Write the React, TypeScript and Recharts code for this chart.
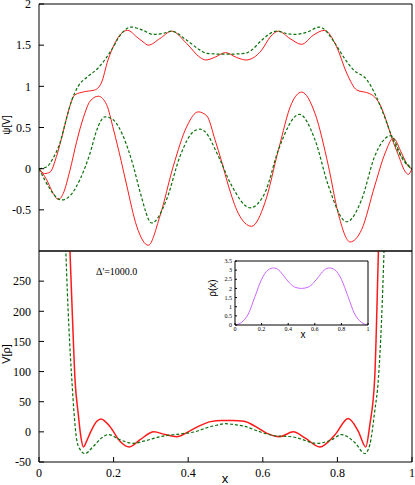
import React from 'react';
import { LineChart, Line, XAxis, YAxis } from 'recharts';

// ---------- ticks ----------
const X_TICKS = [0, 0.2, 0.4, 0.6, 0.8, 1];
const PSI_TICKS = [-0.5, 0, 0.5, 1, 1.5, 2];
const V_TICKS = [-50, 0, 50, 100, 150, 200, 250];
const V_RIGHT_TICKS = [0, 50, 100, 150, 200, 250];
const RHO_TICKS = [0, 0.5, 1, 1.5, 2, 2.5, 3, 3.5];

// ---------- top panel: psi[V] ----------
const PSI_UP_RED_X = [0, 0.015, 0.03, 0.047, 0.065, 0.08, 0.096, 0.122, 0.149, 0.167, 0.185, 0.203, 0.22, 0.238, 0.262, 0.279, 0.293, 0.324, 0.356, 0.396, 0.432, 0.447, 0.47, 0.5, 0.53, 0.555, 0.597, 0.62, 0.642, 0.673, 0.704, 0.735, 0.765, 0.798, 0.825, 0.852, 0.887, 0.9, 0.914, 0.932, 0.946, 0.963, 0.981, 0.99, 1];
const PSI_UP_RED_Y = [0, -0.06, -0.04, 0.15, 0.45, 0.72, 0.895, 0.935, 0.955, 1.04, 1.32, 1.52, 1.64, 1.68, 1.6, 1.54, 1.5, 1.58, 1.67, 1.52, 1.35, 1.32, 1.35, 1.41, 1.35, 1.32, 1.44, 1.6, 1.67, 1.58, 1.51, 1.62, 1.68, 1.48, 1.16, 0.955, 0.91, 0.87, 0.78, 0.57, 0.37, 0.17, -0.03, -0.07, 0];

const PSI_UP_GRN_X = [0, 0.02, 0.038, 0.056, 0.072, 0.087, 0.105, 0.131, 0.158, 0.176, 0.194, 0.221, 0.247, 0.279, 0.306, 0.33, 0.356, 0.396, 0.432, 0.45, 0.5, 0.552, 0.57, 0.597, 0.637, 0.665, 0.686, 0.72, 0.752, 0.794, 0.816, 0.843, 0.879, 0.9, 0.923, 0.946, 0.963, 0.986, 1];
const PSI_UP_GRN_Y = [0, 0.02, 0.13, 0.31, 0.58, 0.82, 1.0, 1.12, 1.22, 1.32, 1.44, 1.64, 1.72, 1.68, 1.63, 1.64, 1.67, 1.56, 1.44, 1.4, 1.39, 1.4, 1.44, 1.56, 1.67, 1.64, 1.63, 1.66, 1.72, 1.52, 1.36, 1.2, 1.08, 0.915, 0.67, 0.39, 0.21, 0.05, 0];

const PSI_LO_RED_X = [0, 0.02, 0.038, 0.052, 0.065, 0.083, 0.101, 0.119, 0.137, 0.159, 0.181, 0.2, 0.22, 0.235, 0.262, 0.293, 0.324, 0.36, 0.396, 0.427, 0.45, 0.472, 0.49, 0.508, 0.534, 0.57, 0.606, 0.642, 0.677, 0.704, 0.74, 0.776, 0.802, 0.834, 0.865, 0.9, 0.928, 0.95, 0.972, 0.99, 1];
const PSI_LO_RED_Y = [0, -0.13, -0.3, -0.375, -0.3, -0.02, 0.33, 0.62, 0.82, 0.88, 0.78, 0.47, 0.1, -0.2, -0.7, -0.93, -0.58, 0.03, 0.51, 0.69, 0.64, 0.35, 0.08, -0.21, -0.54, -0.7, -0.41, 0.23, 0.79, 0.93, 0.67, 0.03, -0.54, -0.89, -0.74, -0.21, 0.19, 0.37, 0.19, 0.03, 0];

const PSI_LO_GRN_X = [0, 0.03, 0.047, 0.061, 0.083, 0.11, 0.137, 0.155, 0.177, 0.2, 0.226, 0.253, 0.272, 0.302, 0.342, 0.378, 0.414, 0.432, 0.445, 0.481, 0.517, 0.566, 0.606, 0.642, 0.698, 0.74, 0.776, 0.825, 0.865, 0.9, 0.943, 0.972, 0.995, 1];
const PSI_LO_GRN_Y = [0, -0.25, -0.35, -0.38, -0.33, -0.13, 0.19, 0.47, 0.63, 0.59, 0.39, 0.03, -0.3, -0.66, -0.375, 0.15, 0.45, 0.48, 0.45, 0.15, -0.21, -0.475, -0.29, 0.23, 0.66, 0.35, -0.21, -0.645, -0.375, 0.15, 0.4, 0.15, 0.02, 0];

// ---------- bottom panel: V[rho] ----------
const V_RED_X = [0.07, 0.083, 0.09, 0.0965, 0.105, 0.112, 0.119, 0.128, 0.137, 0.155, 0.166, 0.19, 0.217, 0.242, 0.271, 0.308, 0.338, 0.369, 0.4, 0.43, 0.46, 0.49, 0.52, 0.55, 0.58, 0.61, 0.645, 0.682, 0.713, 0.753, 0.794, 0.829, 0.856, 0.876, 0.887, 0.9, 0.91, 0.92];
const V_RED_Y = [520, 300, 185, 87, 31, -7, -25, -15, -2, 17.5, 21.5, 9, -15.5, -25, -13, 0, -4.5, -8, 0, 10, 17, 19, 19, 17.5, 9, -2, -8, 0, -10, -25, -4.5, 22, 1, -25, 12, 89, 300, 520];

const V_GRN_X = [0.062, 0.072, 0.08, 0.088, 0.094, 0.101, 0.11, 0.123, 0.146, 0.168, 0.186, 0.217, 0.253, 0.28, 0.333, 0.378, 0.423, 0.445, 0.476, 0.5, 0.525, 0.552, 0.588, 0.624, 0.686, 0.745, 0.785, 0.811, 0.847, 0.874, 0.887, 0.9, 0.91, 0.918, 0.925, 0.935];
const V_GRN_Y = [520, 300, 175, 87, 31, -13, -29, -36, -24, -10, -4.5, -13, -19, -15.5, -7, -3.5, 1, 6, 11, 13.5, 12, 9, 1, -5.6, -9, -19, -13, -4.5, -18, -36, -21, 34, 89, 180, 300, 520];

// ---------- inset: rho(x) ----------
const RHO_X = [0, 0.05, 0.1, 0.15, 0.2, 0.25, 0.29, 0.33, 0.37, 0.41, 0.45, 0.5, 0.55, 0.59, 0.63, 0.67, 0.71, 0.75, 0.8, 0.85, 0.9, 0.95, 1];
const RHO_Y = [0, 0.15, 0.6, 1.55, 2.5, 3.02, 3.12, 3.0, 2.65, 2.3, 2.07, 2.0, 2.07, 2.3, 2.65, 3.0, 3.12, 3.02, 2.5, 1.55, 0.6, 0.15, 0];

const zip = (xs: number[], ys: number[]) => xs.map((x, i) => ({ x, y: ys[i] }));

const RED = '#ff1a1a';
const GREEN = '#0a700a';
const PURPLE = '#cc66ff';
const SERIF = "'Liberation Serif', 'Times New Roman', serif";
const SANS = "'Liberation Sans', Arial, sans-serif";
const TICK = { fontSize: 12, style: { fontFamily: SERIF }, fill: '#000' };
const TICK_SMALL = { fontSize: 6, style: { fontFamily: SERIF }, fill: '#000' };

function TopPanel() {
  return (
    <LineChart width={415} height={252} margin={{ top: 3, right: 2, bottom: 0, left: 0 }}>
      <XAxis xAxisId="b" dataKey="x" type="number" domain={[0, 1]} ticks={X_TICKS} allowDataOverflow orientation="bottom" height={1} tick={false} tickSize={-5} stroke="#000" interval={0} />
      <XAxis xAxisId="t" dataKey="x" type="number" domain={[0, 1]} ticks={X_TICKS} allowDataOverflow orientation="top" height={1} tick={false} tickSize={-5} stroke="#000" interval={0} />
      <YAxis yAxisId="l" type="number" domain={[-1, 2]} ticks={PSI_TICKS} allowDataOverflow width={39} tickSize={-5} tickMargin={13} stroke="#000" tick={TICK} interval={0} />
      <YAxis yAxisId="r" orientation="right" type="number" domain={[-1, 2]} ticks={PSI_TICKS} allowDataOverflow width={1} tickSize={-5} tick={false} stroke="#000" interval={0} />
      <Line xAxisId="b" yAxisId="l" data={zip(PSI_UP_RED_X, PSI_UP_RED_Y)} dataKey="y" type="monotone" stroke={RED} strokeWidth={1} dot={false} activeDot={false} isAnimationActive={false} />
      <Line xAxisId="b" yAxisId="l" data={zip(PSI_LO_RED_X, PSI_LO_RED_Y)} dataKey="y" type="monotone" stroke={RED} strokeWidth={1} dot={false} activeDot={false} isAnimationActive={false} />
      <Line xAxisId="b" yAxisId="l" data={zip(PSI_UP_GRN_X, PSI_UP_GRN_Y)} dataKey="y" type="monotone" stroke={GREEN} strokeWidth={1.2} strokeDasharray="3 2" dot={false} activeDot={false} isAnimationActive={false} />
      <Line xAxisId="b" yAxisId="l" data={zip(PSI_LO_GRN_X, PSI_LO_GRN_Y)} dataKey="y" type="monotone" stroke={GREEN} strokeWidth={1.2} strokeDasharray="3 2" dot={false} activeDot={false} isAnimationActive={false} />
      <text transform="translate(10,125) rotate(-90)" textAnchor="middle" style={{ fontFamily: SANS }} fontSize={10} fill="#000">ψ[V]</text>
    </LineChart>
  );
}

function BottomPanel() {
  return (
    <LineChart width={415} height={485} margin={{ top: 250, right: 2, bottom: 0, left: 0 }}>
      <XAxis xAxisId="b" dataKey="x" type="number" domain={[0, 1]} ticks={X_TICKS} allowDataOverflow orientation="bottom" height={23} tickSize={-5} tickMargin={11} tick={TICK} stroke="#000" interval={0} />
      <XAxis xAxisId="t" dataKey="x" type="number" domain={[0, 1]} ticks={X_TICKS} allowDataOverflow orientation="top" height={1} tick={false} tickSize={-5} stroke="#000" interval={0} />
      <YAxis yAxisId="l" type="number" domain={[-50, 300]} ticks={V_TICKS} allowDataOverflow width={39} tickSize={-5} tickMargin={13} stroke="#000" tick={TICK} interval={0} />
      <YAxis yAxisId="r" orientation="right" type="number" domain={[-50, 300]} ticks={V_RIGHT_TICKS} allowDataOverflow width={1} tickSize={-5} tick={false} stroke="#000" interval={0} />
      <Line xAxisId="b" yAxisId="l" data={zip(V_RED_X, V_RED_Y)} dataKey="y" type="monotone" stroke={RED} strokeWidth={1.5} dot={false} activeDot={false} isAnimationActive={false} />
      <Line xAxisId="b" yAxisId="l" data={zip(V_GRN_X, V_GRN_Y)} dataKey="y" type="monotone" stroke={GREEN} strokeWidth={1.2} strokeDasharray="3 2" dot={false} activeDot={false} isAnimationActive={false} />
      <text transform="translate(10,354) rotate(-90)" textAnchor="middle" style={{ fontFamily: SANS }} fontSize={11} fill="#000">V[ρ]</text>
      <text x={96} y={274.5} style={{ fontFamily: SERIF }} fontSize={10} fill="#000">Δ'=1000.0</text>
      <text x={225} y={483} textAnchor="middle" style={{ fontFamily: SANS }} fontSize={13} fill="#000">x</text>
    </LineChart>
  );
}

function Inset() {
  return (
    <LineChart width={165} height={85} margin={{ top: 6, right: 1, bottom: 0, left: 0 }}>
      <XAxis xAxisId="b" dataKey="x" type="number" domain={[0, 1]} ticks={X_TICKS} allowDataOverflow orientation="bottom" height={14} tickSize={-2} tickMargin={4} tick={TICK_SMALL} stroke="#000" interval={0} />
      <XAxis xAxisId="t" dataKey="x" type="number" domain={[0, 1]} ticks={X_TICKS} allowDataOverflow orientation="top" height={1} tick={false} tickSize={-2} stroke="#000" interval={0} />
      <YAxis yAxisId="l" type="number" domain={[0, 3.5]} ticks={RHO_TICKS} allowDataOverflow width={30} tickSize={-2} tickMargin={5} stroke="#000" tick={TICK_SMALL} interval={0} />
      <YAxis yAxisId="r" orientation="right" type="number" domain={[0, 3.5]} ticks={RHO_TICKS} allowDataOverflow width={1} tickSize={-2} tick={false} stroke="#000" interval={0} />
      <Line xAxisId="b" yAxisId="l" data={zip(RHO_X, RHO_Y)} dataKey="y" type="monotone" stroke={PURPLE} strokeWidth={1} dot={false} activeDot={false} isAnimationActive={false} />
      <text transform="translate(11,34) rotate(-90)" textAnchor="middle" style={{ fontFamily: SANS }} fontSize={10} fill="#000">ρ(x)</text>
      <text x={98} y={84} textAnchor="middle" style={{ fontFamily: SANS }} fontSize={10} fill="#000">x</text>
    </LineChart>
  );
}

export default function App() {
  return (
    <div style={{ position: 'absolute', left: 0, top: 0, width: 415, height: 485, background: '#fff', overflow: 'hidden' }}>
      <div style={{ position: 'absolute', left: 0, top: 0 }}><TopPanel /></div>
      <div style={{ position: 'absolute', left: 0, top: 0 }}><BottomPanel /></div>
      <div style={{ position: 'absolute', left: 205, top: 254 }}><Inset /></div>
    </div>
  );
}
